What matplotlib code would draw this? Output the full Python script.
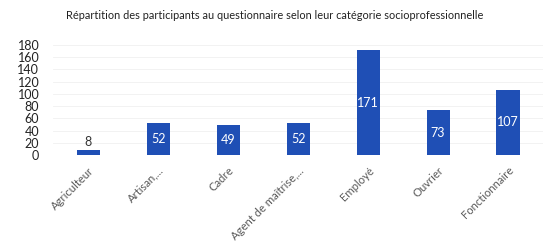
import matplotlib
matplotlib.use("Agg")
import matplotlib.pyplot as plt

categories = ["Agriculteur", "Artisan,...", "Cadre", "Agent de maîtrise,...", "Employé", "Ouvrier", "Fonctionnaire"]
values = [8, 52, 49, 52, 171, 73, 107]
yticks = [0, 20, 40, 60, 80, 100, 120, 140, 160, 180]
title = "Répartition des participants au questionnaire selon leur catégorie socioprofessionnelle"

plt.rcParams['font.family'] = ['Lato', 'DejaVu Sans']

fig = plt.figure(figsize=(5.43, 2.43), dpi=100)
ax = fig.add_axes([0.098, 0.362, 0.902, 0.453])
x = list(range(len(categories)))
bars = ax.bar(x, values, width=0.33, color="#1f4fb5", zorder=3)
ax.set_xlim(-0.5, len(categories) - 0.5)
ax.set_ylim(0, 180)
ax.set_yticks(yticks)
ax.set_yticklabels([str(t) for t in yticks], fontsize=9, color="#222222")
ax.set_xticks(x)
ax.set_xticklabels(categories, rotation=45, ha="right", rotation_mode="anchor",
                   fontsize=8.1, color="#595959")
ax.tick_params(axis="x", length=0, pad=7)
ax.tick_params(axis="y", length=0, pad=10)
for s in ax.spines.values():
    s.set_visible(False)
ax.grid(axis="y", color="#f0f0f0", linewidth=0.6, zorder=0)

for xi, v in zip(x, values):
    if v < 20:
        ax.text(xi, v + 4, str(v), ha="center", va="bottom", fontsize=9, color="#333333")
    else:
        ax.text(xi, v / 2, str(v), ha="center", va="center", fontsize=9, color="white")

fig.text(0.506, 0.935, title, ha="center", va="center", fontsize=7.9, color="#222222")

fig.savefig("out.png", dpi=100)
